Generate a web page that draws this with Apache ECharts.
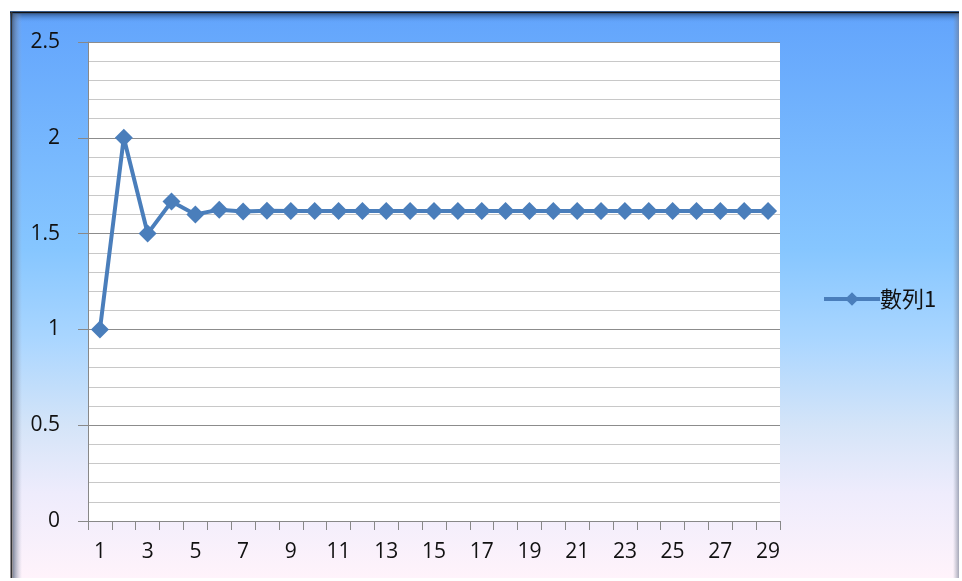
<!DOCTYPE html>
<html>
<head>
<meta charset="utf-8">
<script src="https://cdn.jsdelivr.net/npm/echarts@6/dist/echarts.min.js"></script>
<style>
html,body{margin:0;padding:0;background:#fff;}
#c{width:962px;height:581px;}
</style>
</head>
<body>
<div id="c"></div>
<script>
const categories = ['1','2','3','4','5','6','7','8','9','10','11','12','13','14','15','16','17','18','19','20','21','22','23','24','25','26','27','28','29'];
const seriesName = '數列1';
const values = [1, 2, 1.5, 1.667, 1.6, 1.625, 1.615, 1.619, 1.618, 1.618, 1.618, 1.618, 1.618, 1.618, 1.618, 1.618, 1.618, 1.618, 1.618, 1.618, 1.618, 1.618, 1.618, 1.618, 1.618, 1.618, 1.618, 1.618, 1.618];
const yTicks = { min: 0, max: 2.5, interval: 0.5 };

const chart = echarts.init(document.getElementById('c'), null, { renderer: 'canvas' });
const font = '"Open Sans", "DejaVu Sans", sans-serif';
chart.setOption({
  animation: false,
  graphic: [
    { type: 'rect', z: -10, silent: true,
      shape: { x: 10, y: 11, width: 949, height: 567 },
      style: { fill: new echarts.graphic.LinearGradient(0, 0, 0, 1, [
        { offset: 0, color: '#62a4fc' },
        { offset: 0.42, color: '#86c6ff' },
        { offset: 0.58, color: '#aad6ff' },
        { offset: 0.73, color: '#d4e4f8' },
        { offset: 0.85, color: '#eeecfc' },
        { offset: 1, color: '#fff3fb' }
      ]) } },
    { type: 'rect', z: -9, silent: true, shape: { x: 10, y: 14, width: 949, height: 9 },
      style: { fill: new echarts.graphic.LinearGradient(0, 0, 0, 1, [
        { offset: 0, color: '#3a67a6' }, { offset: 1, color: 'rgba(98,164,252,0)' }]) } },
    { type: 'rect', z: -9, silent: true, shape: { x: 13, y: 14, width: 9, height: 564 },
      style: { fill: new echarts.graphic.LinearGradient(0, 0, 1, 0, [
        { offset: 0, color: 'rgba(80,95,120,0.7)' }, { offset: 1, color: 'rgba(160,170,190,0)' }]) } },
    { type: 'rect', z: -9, silent: true, shape: { x: 953, y: 14, width: 6, height: 564 },
      style: { fill: new echarts.graphic.LinearGradient(0, 0, 1, 0, [
        { offset: 0, color: 'rgba(120,130,150,0)' }, { offset: 1, color: 'rgba(110,120,140,0.6)' }]) } },
    { type: 'line', z: -8, silent: true, shape: { x1: 10, y1: 12.5, x2: 959, y2: 12.5 }, style: { stroke: '#111', lineWidth: 2 } },
    { type: 'line', z: -8, silent: true, shape: { x1: 11.5, y1: 12, x2: 11.5, y2: 578 }, style: { stroke: '#333', lineWidth: 2 } }
  ],
  grid: { left: 88, right: 182, top: 42, bottom: 60, show: true, backgroundColor: '#ffffff', borderWidth: 0 },
  legend: {
    data: [seriesName], left: 817, top: 283, itemWidth: 56, itemHeight: 17, itemGap: 4,
    lineStyle: { width: 4 },
    textStyle: { fontFamily: '"Noto Sans CJK TC", sans-serif', fontSize: 22, color: '#111', padding: [0, 0, 0, -5] }
  },
  xAxis: {
    type: 'category', data: categories, boundaryGap: true,
    axisLine: { lineStyle: { color: '#888', width: 1 } },
    axisTick: { show: true, interval: 0, length: 9, lineStyle: { color: '#888' } },
    axisLabel: { interval: 1, fontFamily: font, fontSize: 21, color: '#111', margin: 21 },
    splitLine: { show: false }
  },
  yAxis: {
    type: 'value', min: yTicks.min, max: yTicks.max, interval: yTicks.interval,
    axisLine: { show: true, lineStyle: { color: '#888' } },
    axisTick: { show: true, length: 10, inside: false, lineStyle: { color: '#888' } },
    axisLabel: { fontFamily: font, fontSize: 21, color: '#111', margin: 28,
      formatter: v => String(v) },
    splitLine: { show: true, lineStyle: { color: '#8c8c8c', width: 1 } },
    minorTick: { show: false, splitNumber: 5 },
    minorSplitLine: { show: true, lineStyle: { color: '#c8c8c8', width: 1 } }
  },
  series: [{
    name: seriesName, type: 'line', data: values,
    symbol: 'diamond', symbolSize: 18, showAllSymbol: true,
    lineStyle: { color: '#4a7ebb', width: 4 },
    itemStyle: { color: '#4a7ebb' }
  }]
});
</script>
</body>
</html>
